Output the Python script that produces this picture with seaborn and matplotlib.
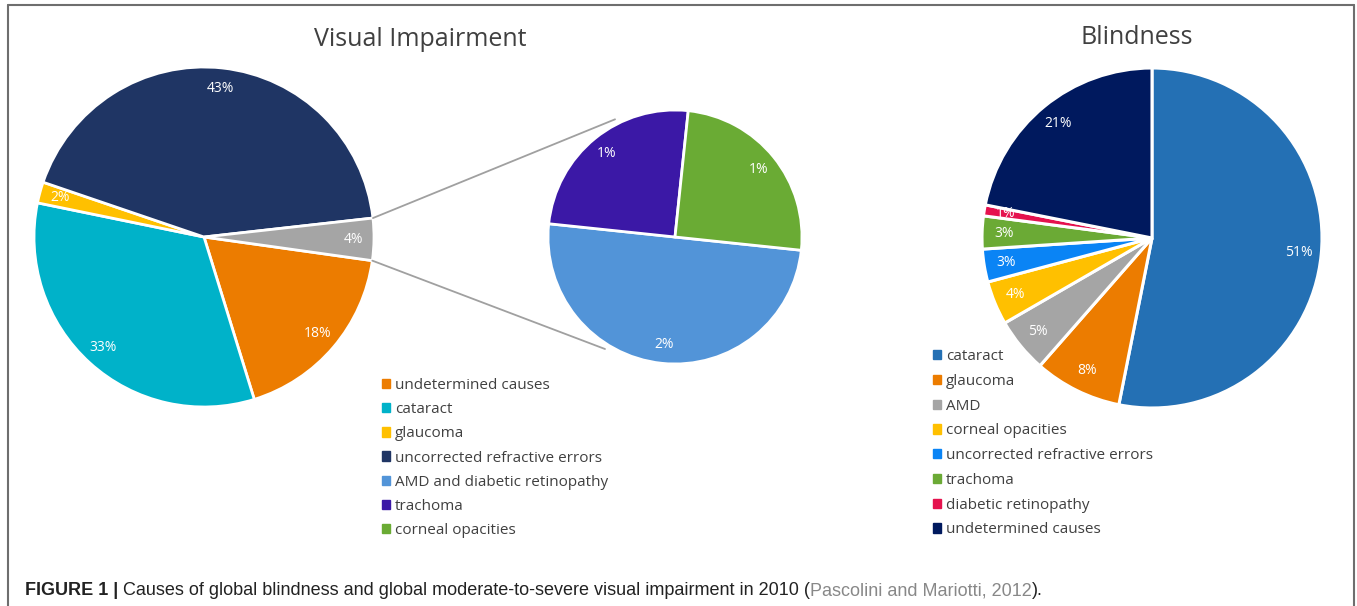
import numpy as np
import matplotlib
matplotlib.use("Agg")
import matplotlib.pyplot as plt
import seaborn as sns
from matplotlib.patches import Patch, ConnectionPatch
from matplotlib.lines import Line2D

W, H, DPI = 1357, 606, 100

# Visual impairment, main pie (clockwise, "other" slice last)
vi_main_labels = ["undetermined causes", "cataract", "glaucoma",
                  "uncorrected refractive errors", "other"]
vi_main_values = [18, 33, 2, 43, 4]
vi_main_colors = ["#EC7C00", "#00B2C9", "#FFC000", "#1F3564", "#A5A5A5"]

# Visual impairment, secondary pie (breakdown of "other")
vi_sub_labels = ["AMD and diabetic retinopathy", "trachoma", "corneal opacities"]
vi_sub_values = [2, 1, 1]
vi_sub_colors = ["#5294D8", "#3B18A6", "#6AAB34"]

# Blindness
bl_labels = ["cataract", "glaucoma", "AMD", "corneal opacities",
             "uncorrected refractive errors", "trachoma",
             "diabetic retinopathy", "undetermined causes"]
bl_values = [51, 8, 5, 4, 3, 3, 1, 21]
bl_colors = ["#2470B4", "#EC7C00", "#A5A5A5", "#FFC000",
             "#0A84F5", "#6BAA35", "#E5124E", "#00195E"]

TXT = "#404040"


def pie_axes(fig, cx, cy, r):
    """Axes whose unit circle sits at pixel centre (cx, cy) with radius r."""
    ax = fig.add_axes([(cx - r) / W, 1 - (cy + r) / H, 2 * r / W, 2 * r / H])
    ax.axis("off")
    return ax


def draw_pie(ax, values, colors, start, dist, lw):
    wedges, _ = ax.pie(values, colors=colors, startangle=start, counterclock=False,
                       wedgeprops=dict(edgecolor="white", linewidth=lw))
    ax.set_xlim(-1, 1)
    ax.set_ylim(-1, 1)
    for w, v in zip(wedges, values):
        w.set_clip_on(False)
        mid = np.deg2rad((w.theta1 + w.theta2) / 2)
        ax.text(dist * np.cos(mid), dist * np.sin(mid), f"{v}%", color="white",
                fontsize=10, ha="center", va="center")
    return wedges


def main():
    sns.set_theme(style="white")
    plt.rcParams["font.family"] = ["Open Sans", "DejaVu Sans"]

    fig = plt.figure(figsize=(W / DPI, H / DPI), dpi=DPI)
    fig.patch.set_facecolor("white")

    # Pies
    ax_main = pie_axes(fig, 204, 237, 170)
    main_w = draw_pie(ax_main, vi_main_values, vi_main_colors, -8, 0.88, 2.0)
    ax_sub = pie_axes(fig, 675, 237, 127)
    draw_pie(ax_sub, vi_sub_values, vi_sub_colors, -6, 0.85, 2.0)
    ax_bl = pie_axes(fig, 1152, 238, 170)
    draw_pie(ax_bl, bl_values, bl_colors, 90, 0.87, 2.2)

    # Connector lines from the "other" slice to the secondary pie
    other = main_w[-1]
    for a_main, a_sub in [(other.theta2, 117), (other.theta1, -122)]:
        ta, tb = np.deg2rad(a_main), np.deg2rad(a_sub)
        con = ConnectionPatch((np.cos(ta), np.sin(ta)),
                              (1.04 * np.cos(tb), 1.04 * np.sin(tb)),
                              coordsA=ax_main.transData, coordsB=ax_sub.transData,
                              color="#A0A0A0", lw=1.3)
        fig.add_artist(con)

    # Titles
    fig.text(420 / W, 1 - 40 / H, "Visual Impairment", ha="center", va="center",
             fontsize=18, color=TXT)
    fig.text(1137 / W, 1 - 37 / H, "Blindness", ha="center", va="center",
             fontsize=18, color=TXT)

    # Legends
    leg_kw = dict(loc="upper left", frameon=False, fontsize=11, handlelength=0.55,
                  handleheight=0.55, handletextpad=0.3,
                  borderaxespad=0, borderpad=0, labelcolor=TXT)
    vi_order = vi_main_labels[:4] + vi_sub_labels
    vi_cols = vi_main_colors[:4] + vi_sub_colors
    fig.legend([Patch(color=c) for c in vi_cols], vi_order, labelspacing=0.6,
               bbox_to_anchor=(382 / W, 1 - 378 / H), **leg_kw)
    fig.legend([Patch(color=c) for c in bl_colors], bl_labels, labelspacing=0.64,
               bbox_to_anchor=(933 / W, 1 - 349 / H), **leg_kw)

    # Frame (open at the bottom)
    frame = dict(color="#6E6E6E", lw=1.5, transform=fig.transFigure)
    x0, x1, y0 = 8 / W, 1354 / W, 1 - 5 / H
    fig.add_artist(Line2D([x0, x1], [y0, y0], **frame))
    fig.add_artist(Line2D([x0, x0], [0, y0], **frame))
    fig.add_artist(Line2D([x1, x1], [0, y0], **frame))

    # Caption, built piece by piece so the citation can be grey
    cap = dict(family=["Liberation Sans", "DejaVu Sans"], fontsize=13, va="bottom")
    t1 = fig.text(25 / W, 1 - 599 / H, "FIGURE 1 |", weight="bold", color="#222222", **cap)
    b = plt.annotate(" Causes of global blindness and global moderate-to-severe "
                     "visual impairment in 2010 (", xy=(1, 0), xycoords=t1,
                     color="#222222", annotation_clip=False, **cap)
    c = plt.annotate("Pascolini and Mariotti, 2012", xy=(1, 0), xycoords=b,
                     color="#888888", annotation_clip=False, **cap)
    plt.annotate(").", xy=(1, 0), xycoords=c, color="#222222",
                 annotation_clip=False, **cap)

    fig.savefig("out.png", dpi=DPI)
    plt.close(fig)


if __name__ == "__main__":
    main()
